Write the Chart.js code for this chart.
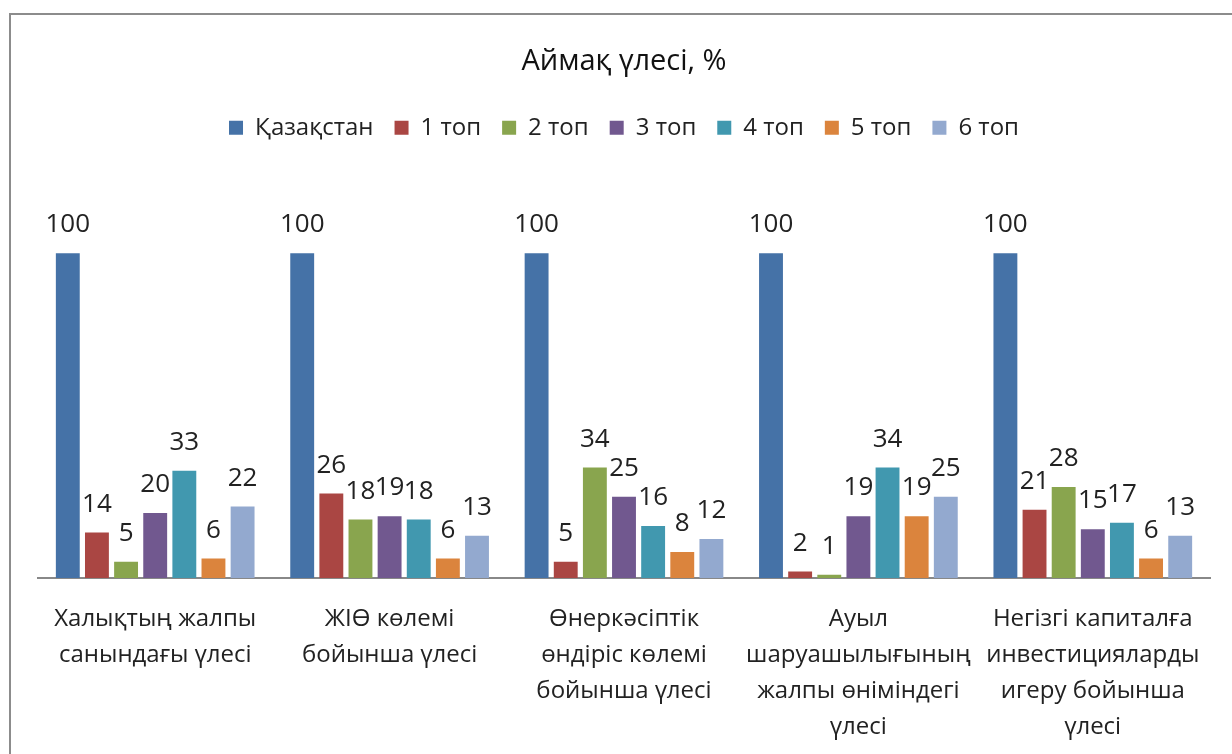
<!DOCTYPE html>
<html lang="kk">
<head>
  <meta charset="UTF-8" />
  <title>Аймақ үлесі</title>
  <script src="https://cdn.jsdelivr.net/npm/chart.js"></script>
  <style>
    html, body {
      margin: 0;
      padding: 0;
      background: #fff;
      overflow: hidden;
    }
    .frame {
      position: absolute;
      left: 9px;
      top: 13px;
      width: 1300px;
      height: 800px;
      border-left: 2px solid #8c8c8c;
      border-top: 2px solid #8c8c8c;
    }
    .wrap {
      position: absolute;
      left: 0;
      top: 0;
      width: 1232px;
      height: 775px;
    }
  </style>
</head>
<body>
  <div class="frame"></div>
  <div class="wrap">
    <canvas id="chart" width="1232" height="775"></canvas>
  </div>

  <script>
    const categories = [
      ['Халықтың жалпы', 'санындағы үлесі'],
      ['ЖІӨ көлемі', 'бойынша үлесі'],
      ['Өнеркәсіптік', 'өндіріс көлемі', 'бойынша үлесі'],
      ['Ауыл', 'шаруашылығының', 'жалпы өніміндегі', 'үлесі'],
      ['Негізгі капиталға', 'инвестицияларды', 'игеру бойынша', 'үлесі']
    ];
    const seriesNames = ['Қазақстан', '1 топ', '2 топ', '3 топ', '4 топ', '5 топ', '6 топ'];
    const kazakhstan = [100, 100, 100, 100, 100];
    const group1 = [14, 26, 5, 2, 21];
    const group2 = [5, 18, 34, 1, 28];
    const group3 = [20, 19, 25, 19, 15];
    const group4 = [33, 18, 16, 34, 17];
    const group5 = [6, 6, 8, 19, 6];
    const group6 = [22, 13, 12, 25, 13];
    const colors = ['#4572A7', '#AA4643', '#89A54E', '#71588F', '#4198AF', '#DB843D', '#93A9CF'];

    const font = "'Open Sans', 'Noto Sans', sans-serif";
    const allSeries = [kazakhstan, group1, group2, group3, group4, group5, group6];

    // value labels above each bar
    const valueLabels = {
      id: 'valueLabels',
      afterDatasetsDraw(chart) {
        const ctx = chart.ctx;
        ctx.save();
        ctx.font = '26px ' + font;
        ctx.fillStyle = '#222';
        ctx.textAlign = 'center';
        ctx.textBaseline = 'alphabetic';
        chart.data.datasets.forEach((ds, i) => {
          chart.getDatasetMeta(i).data.forEach((bar, j) => {
            ctx.fillText(String(ds.data[j]), bar.x, bar.y - 21);
          });
        });
        ctx.restore();
      }
    };

    new Chart(document.getElementById('chart'), {
      type: 'bar',
      data: {
        labels: categories,
        datasets: allSeries.map((d, i) => ({
          label: seriesNames[i],
          data: d,
          backgroundColor: colors[i],
          borderWidth: 0,
          categoryPercentage: 0.87,
          barPercentage: 0.82
        }))
      },
      options: {
        responsive: false,
        animation: false,
        layout: { padding: { top: 20, left: 38, right: 22, bottom: 7 } },
        plugins: {
          title: {
            display: true,
            text: 'Аймақ үлесі, %',
            color: '#111',
            font: { family: font, size: 29, weight: 'normal' },
            padding: { top: 24, bottom: 16 }
          },
          legend: {
            labels: {
              color: '#222',
              font: { family: font, size: 24 },
              boxWidth: 14,
              boxHeight: 14,
              padding: 21
            }
          },
          tooltip: { enabled: false }
        },
        scales: {
          x: {
            grid: { display: false, drawTicks: false },
            border: { display: true, color: '#888', width: 2 },
            ticks: {
              color: '#222',
              font: { family: font, size: 24, lineHeight: 1.5 },
              padding: 23,
              maxRotation: 0,
              autoSkip: false
            }
          },
          y: {
            display: false,
            min: 0,
            max: 131.9
          }
        }
      },
      plugins: [valueLabels]
    });
  </script>
</body>
</html>
